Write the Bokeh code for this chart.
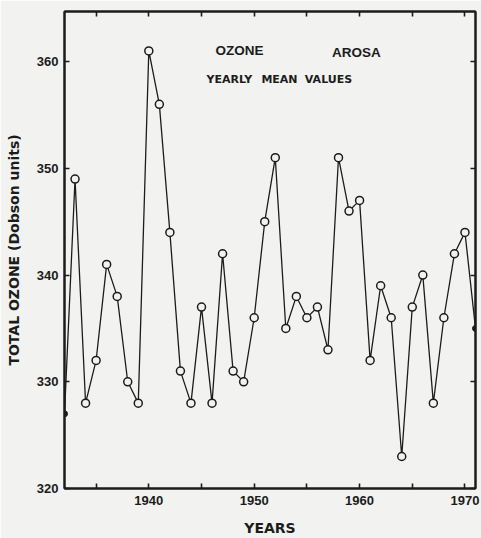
from bokeh.plotting import figure
from bokeh.models import Range1d, FixedTicker, LinearAxis, Label, ColumnDataSource
from bokeh.embed import file_html
from bokeh.resources import INLINE

# ---- data ----
years = [1932, 1933, 1934, 1935, 1936, 1937, 1938, 1939,
         1940, 1941, 1942, 1943, 1944, 1945, 1946, 1947, 1948, 1949,
         1950, 1951, 1952, 1953, 1954, 1955, 1956, 1957, 1958, 1959,
         1960, 1961, 1962, 1963, 1964, 1965, 1966, 1967, 1968, 1969,
         1970, 1971]
ozone = [327, 349, 328, 332, 341, 338, 330, 328,
         361, 356, 344, 331, 328, 337, 328, 342, 331, 330,
         336, 345, 351, 335, 338, 336, 337, 333, 351, 346,
         347, 332, 339, 336, 323, 337, 340, 328, 336, 342,
         344, 335]
x_major_ticks = [1940, 1950, 1960, 1970]
x_minor_ticks = [1935, 1945, 1955, 1965]
y_ticks = [320, 330, 340, 350, 360]

PAPER = "#f2f2f0"
INK = "#1c1c1c"

p = figure(width=481, height=538,
           x_range=Range1d(1932, 1971), y_range=Range1d(320, 364.7),
           output_backend="svg", toolbar_location=None,
           min_border_left=64, min_border_right=6,
           min_border_top=11, min_border_bottom=50)
p.background_fill_color = PAPER
p.border_fill_color = PAPER
p.outline_line_color = INK
p.outline_line_width = 2
p.xgrid.visible = False
p.ygrid.visible = False


def style_axis(ax):
    ax.axis_line_color = INK
    ax.axis_line_width = 2
    ax.major_tick_line_color = INK
    ax.major_tick_line_width = 1.6
    ax.minor_tick_line_color = INK
    ax.minor_tick_line_width = 1.6
    ax.major_tick_in = 5
    ax.major_tick_out = 0
    ax.minor_tick_in = 5
    ax.minor_tick_out = 0
    ax.major_label_text_color = INK
    ax.major_label_text_font = "Liberation Sans"
    ax.major_label_text_font_size = "13px"
    ax.major_label_text_font_style = "bold"
    ax.axis_label_text_color = INK
    ax.axis_label_text_font = "DejaVu Sans"
    ax.axis_label_text_font_size = "14px"
    ax.axis_label_text_font_style = "bold"


# bottom axis
xa = p.xaxis[0]
xa.ticker = FixedTicker(ticks=x_major_ticks, minor_ticks=x_minor_ticks)
style_axis(xa)
xa.major_label_standoff = 7
xa.axis_label = "YEARS"
xa.axis_label_standoff = 12

# left axis
ya = p.yaxis[0]
ya.ticker = FixedTicker(ticks=y_ticks)
style_axis(ya)
ya.minor_tick_line_color = None
ya.major_label_standoff = 6
ya.axis_label = "TOTAL OZONE (Dobson units)"
ya.axis_label_standoff = 12

# top axis (ticks only)
top = LinearAxis(ticker=FixedTicker(ticks=x_major_ticks, minor_ticks=x_minor_ticks))
style_axis(top)
top.major_label_overrides = {t: "" for t in x_major_ticks}
top.major_label_text_font_size = "0px"
top.major_label_standoff = 0
p.add_layout(top, "above")

# right axis (ticks only)
right = LinearAxis(ticker=FixedTicker(ticks=y_ticks))
style_axis(right)
right.minor_tick_line_color = None
right.major_label_overrides = {t: "" for t in y_ticks}
right.major_label_text_font_size = "0px"
right.major_label_standoff = 0
p.add_layout(right, "right")

# series
src = ColumnDataSource(dict(year=years, oz=ozone))
inner = ColumnDataSource(dict(year=years[1:-1], oz=ozone[1:-1]))
ends = ColumnDataSource(dict(year=[years[0], years[-1]], oz=[ozone[0], ozone[-1]]))

p.line("year", "oz", source=src, line_color=INK, line_width=1.3)
p.scatter("year", "oz", source=inner, marker="circle", size=8,
          fill_color=PAPER, line_color=INK, line_width=1.5)
p.scatter("year", "oz", source=ends, marker="circle", size=6,
          fill_color=INK, line_color=INK, line_width=1)

# in-plot titles
p.add_layout(Label(x=1948.6, y=361.0, text="OZONE", text_align="center",
                   text_baseline="middle", text_font="Liberation Sans",
                   text_font_size="13.5px", text_font_style="bold",
                   text_color=INK))
p.add_layout(Label(x=1959.7, y=360.85, text="AROSA", text_align="center",
                   text_baseline="middle", text_font="Liberation Sans",
                   text_font_size="13.5px", text_font_style="bold",
                   text_color=INK))
for word, xc in [("YEARLY", 1947.65), ("MEAN", 1952.4), ("VALUES", 1957.05)]:
    p.add_layout(Label(x=xc, y=358.3, text=word, text_align="center",
                       text_baseline="middle", text_font="DejaVu Sans",
                       text_font_size="11px", text_font_style="bold",
                       text_color=INK))

open("out.html", "w").write(file_html(p, INLINE))
